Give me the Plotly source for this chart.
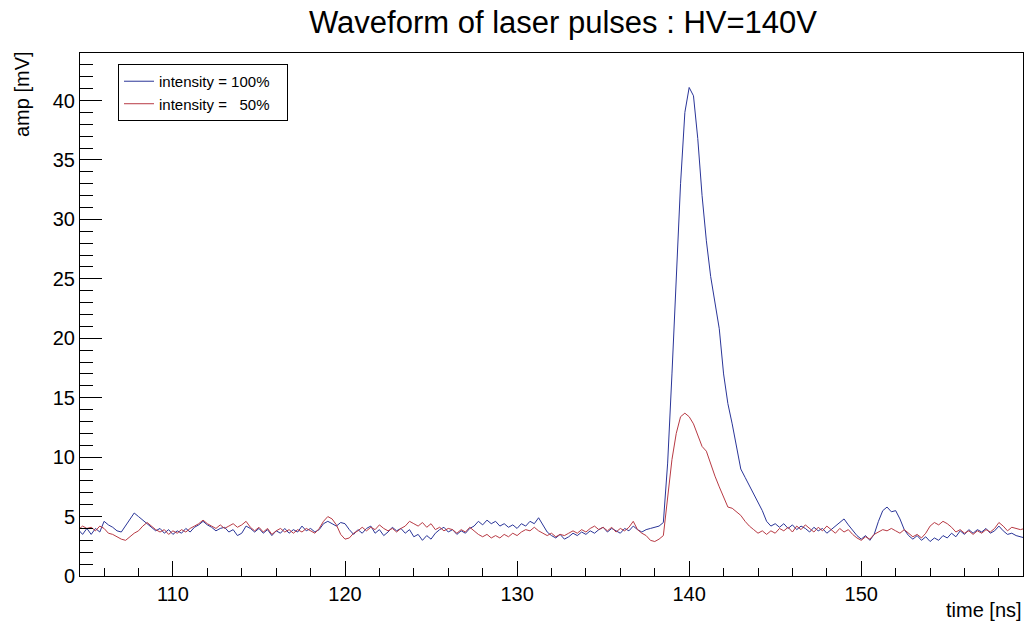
import plotly.graph_objects as go

# sampling grid of the waveforms (ns)
t_start = 104.5
t_step = 0.25

# amplitude [mV], intensity = 100%
amp_100 = [
    3.9, 3.5, 4.0, 3.5, 4.0, 3.7, 4.6, 4.3, 4.1, 3.8,
    3.7, 4.2, 4.8, 5.3, 5.0, 4.7, 4.4, 4.1, 3.8, 4.0,
    3.6, 3.9, 3.5, 3.8, 3.6, 4.0, 3.7, 4.1, 4.3, 4.6,
    4.3, 4.1, 3.8, 4.0, 4.1, 3.7, 3.9, 3.4, 3.6, 4.2,
    4.0, 3.7, 4.0, 3.6, 3.9, 3.4, 3.8, 3.6, 4.0, 3.6,
    3.9, 3.7, 4.2, 3.8, 4.0, 3.7, 3.9, 4.4, 4.6, 4.4,
    4.2, 4.5, 4.4, 3.9, 3.5, 3.9, 3.6, 4.0, 4.2, 3.6,
    3.9, 3.4, 3.7, 4.1, 3.8, 4.0, 3.6, 3.9, 3.3, 3.5,
    3.0, 3.4, 3.1, 3.6, 3.9, 4.1, 3.7, 3.9, 3.5, 3.8,
    3.6, 4.0, 4.2, 4.6, 4.3, 4.7, 4.4, 4.6, 4.2, 4.4,
    4.1, 4.3, 4.0, 4.4, 4.2, 4.6, 4.4, 4.9, 4.3, 3.7,
    3.4, 3.2, 3.5, 3.1, 3.3, 3.6, 3.4, 3.7, 3.5, 3.8,
    3.6, 3.9, 4.1, 3.7, 4.0, 3.8, 3.6, 4.0, 3.8, 4.2,
    3.9, 3.7, 3.9, 4.0, 4.1, 4.2, 4.5, 9.5, 17.0, 25.5,
    33.0, 39.0, 41.1, 40.4, 36.8, 32.0, 28.2, 25.2, 23.0, 20.8,
    17.0, 14.5, 12.8, 10.8, 9.0, 8.3, 7.6, 7.0, 6.3, 5.5,
    4.6, 4.2, 4.4, 4.1, 4.4, 4.0, 4.3, 3.9, 4.2, 4.0,
    3.7, 4.1, 3.8, 4.0, 3.6, 3.9, 4.2, 4.5, 4.8, 4.3,
    3.8, 3.4, 3.1, 3.4, 3.0, 3.5, 4.6, 5.5, 5.8, 5.4,
    5.5, 4.8, 3.9, 3.4, 3.1, 3.4, 3.0, 3.3, 2.9, 3.2,
    3.0, 3.4, 3.2, 3.6, 3.3, 3.8, 3.5, 3.9, 3.6, 3.9,
    3.7, 4.0, 3.6, 3.8, 4.2, 3.8, 3.5, 3.6, 3.4, 3.3,
    3.2,
]

# amplitude [mV], intensity = 50%
amp_50 = [
    3.9, 4.2, 4.0, 4.1, 3.8, 4.2, 4.0, 3.6, 3.5, 3.3,
    3.1, 3.0, 3.3, 3.6, 3.8, 4.2, 4.5, 4.2, 3.9, 3.7,
    3.9, 3.5, 3.8, 3.6, 3.9, 3.7, 4.0, 4.2, 4.4, 4.7,
    4.4, 4.2, 4.0, 4.3, 4.0, 4.2, 4.4, 4.1, 4.3, 4.6,
    4.1, 3.8, 4.1, 3.7, 4.0, 3.5, 3.8, 4.0, 3.7, 3.9,
    3.6, 3.9, 3.7, 4.0, 3.8, 3.6, 4.0, 4.6, 5.0, 4.8,
    4.3, 3.5, 3.1, 3.2, 3.6, 3.8, 4.1, 3.8, 4.1, 3.9,
    4.3, 4.0, 3.8, 4.0, 3.7, 4.0, 4.2, 4.6, 4.4, 4.2,
    4.5, 4.1, 4.4, 3.9, 4.1, 3.8, 4.0, 3.9, 3.6, 3.9,
    3.7, 4.1, 3.8, 3.5, 3.3, 3.5, 3.2, 3.4, 3.2, 3.5,
    3.3, 3.6, 3.4, 3.7, 3.9, 3.8, 4.1, 3.8, 3.6, 3.4,
    3.6, 3.3, 3.5, 3.4, 3.6, 3.8, 3.6, 3.9, 3.7, 4.0,
    4.2, 3.9, 4.1, 3.8, 4.1, 3.7, 4.0, 3.8, 4.1, 4.6,
    3.9, 3.6, 3.4, 3.0, 2.9, 3.1, 3.4, 6.5, 9.8, 12.0,
    13.4, 13.7, 13.4, 12.8, 11.8, 10.9, 10.5, 9.4, 8.4, 7.5,
    6.7, 5.8, 5.7, 5.4, 5.1, 4.6, 4.2, 3.9, 3.6, 3.8,
    3.5, 3.8, 3.6, 4.0, 3.8, 4.1, 3.7, 4.2, 3.9, 4.3,
    4.0, 3.7, 4.1, 3.8, 4.2, 3.9, 3.6, 4.0, 3.7, 3.9,
    3.5, 3.2, 3.0, 3.3, 3.1, 3.5, 3.7, 3.9, 3.8, 4.0,
    3.8, 3.6, 3.9, 3.6, 3.3, 3.5, 3.2, 3.6, 4.2, 4.5,
    4.3, 4.6, 4.4, 4.1, 3.7, 3.9, 3.6, 3.8, 3.5, 3.8,
    3.6, 3.9, 3.7, 4.0, 4.5, 4.2, 3.8, 4.1, 4.0, 3.9,
    4.0,
]

time_ns = [t_start + i * t_step for i in range(len(amp_100))]

series_names = ["intensity = 100%\u00a0\u00a0\u00a0", "intensity =\u00a0\u00a0\u00a050%\u00a0\u00a0\u00a0"]
series_colors = ["#2a3598", "#b83a44"]

x_range = [104.6, 159.4]
y_range = [0, 44.0]

fig = go.Figure()
for name, vals, col in zip(series_names, [amp_100, amp_50], series_colors):
    fig.add_trace(go.Scatter(
        x=time_ns, y=vals, mode="lines", name=name,
        line=dict(color=col, width=1),
    ))

font_family = "Liberation Sans, Arial, Helvetica, sans-serif"

fig.update_layout(
    width=1027, height=622,
    paper_bgcolor="white", plot_bgcolor="white",
    margin=dict(l=80, r=4, t=53, b=46),
    font=dict(family=font_family, color="black"),
    showlegend=True,
    legend=dict(
        x=0.0403, y=0.979, xanchor="left", yanchor="top",
        bgcolor="white", bordercolor="black", borderwidth=1,
        font=dict(size=15, family=font_family, color="black"),
        itemwidth=30, tracegroupgap=0,
    ),
    annotations=[
        dict(text="Waveform of laser pulses : HV=140V", xref="paper", yref="paper",
             x=0.512, y=1.0, yshift=31,
             xanchor="center", yanchor="middle", showarrow=False,
             font=dict(size=31, family=font_family, color="black")),
        dict(text="amp [mV]", xref="paper", yref="paper",
             x=0, xshift=-58, y=1, yshift=4, xanchor="center", yanchor="top",
             textangle=-90, showarrow=False,
             font=dict(size=20, family=font_family, color="black")),
        dict(text="time [ns]", xref="paper", yref="paper",
             x=1, xshift=1, y=0, yshift=-34, xanchor="right", yanchor="middle",
             showarrow=False,
             font=dict(size=20, family=font_family, color="black")),
    ],
)

fig.update_xaxes(
    range=x_range, showgrid=False, zeroline=False,
    showline=True, linecolor="black", linewidth=1, mirror=True,
    ticks="inside", ticklen=15, tickwidth=1, tickcolor="black",
    tick0=0, dtick=10,
    minor=dict(ticks="inside", ticklen=8, tickwidth=1, tickcolor="black", dtick=2, showgrid=False),
    tickfont=dict(size=20, family=font_family, color="black"),
)
fig.update_yaxes(
    range=y_range, showgrid=False, zeroline=False,
    showline=True, linecolor="black", linewidth=1, mirror=True,
    ticks="inside", ticklen=22, tickwidth=1, tickcolor="black",
    tick0=0, dtick=5,
    minor=dict(ticks="inside", ticklen=13, tickwidth=1, tickcolor="black", dtick=1, showgrid=False),
    tickfont=dict(size=20, family=font_family, color="black"),
)

fig.write_html("out.html")
